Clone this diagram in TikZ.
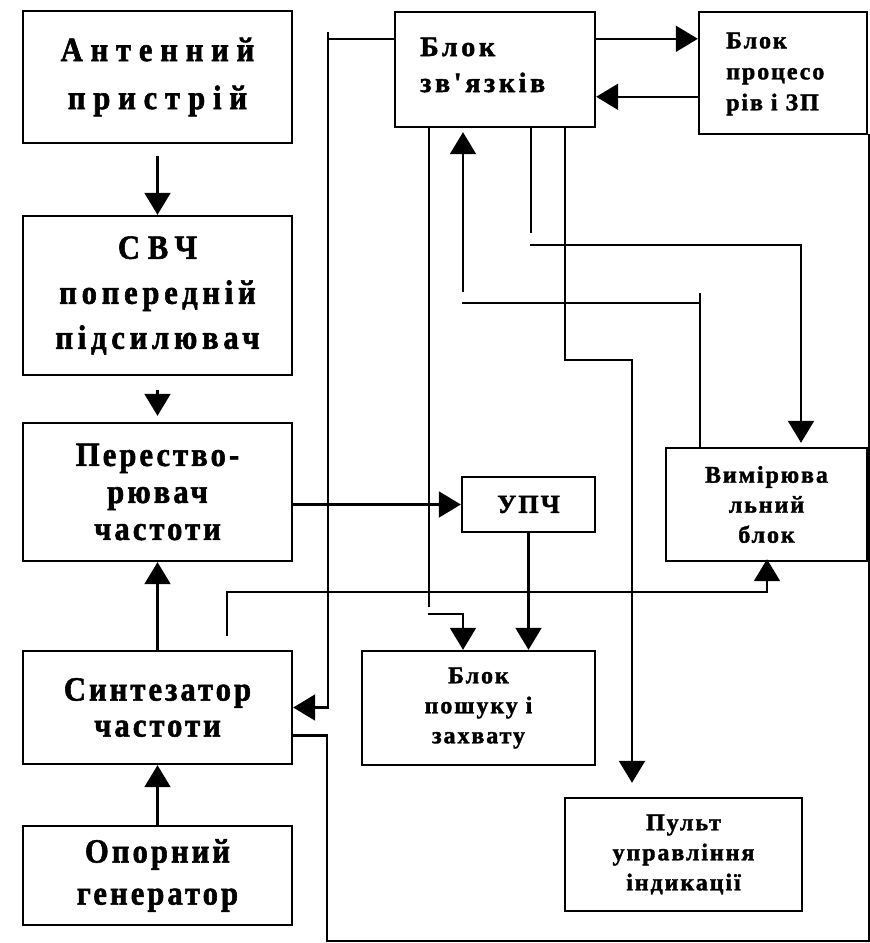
\documentclass[tikz,border=0pt]{standalone}
\usepackage{fontspec}
\setmainfont{Liberation Serif}
\newfontfamily\lfont{Liberation Serif}[UprightFont=* Bold,FakeBold=1.6,FakeStretch=0.9,LetterSpace=9]
\newfontfamily\lmfont{Liberation Serif}[UprightFont=* Bold,FakeBold=1.6,FakeStretch=0.9,LetterSpace=14]
\newfontfamily\lwfont{Liberation Serif}[UprightFont=* Bold,FakeBold=1.6,FakeStretch=0.9,LetterSpace=23]
\newfontfamily\rfont{Liberation Serif}[UprightFont=* Bold,FakeBold=1.6,LetterSpace=8]
\newfontfamily\zfont{Liberation Serif}[UprightFont=* Bold,FakeBold=1.6,LetterSpace=13]
\usetikzlibrary{arrows.meta}
\begin{document}
\begin{tikzpicture}[x=1pt,y=-1pt]
	\tikzstyle{every node}+=[inner sep=0pt]
	\tikzstyle{box}=[draw,line width=2.4pt,align=center]
	\tikzstyle{lbox}=[box,minimum width=269pt]
	\tikzstyle{wire}=[line width=2.1pt]
	\tikzstyle{arr}=[wire,-{Triangle[length=22pt,width=26pt]}]
	\useasboundingbox (0,0) rectangle (870,943);
	\node[lbox,minimum height=132pt,font=\lwfont\fontsize{34}{48}\selectfont] (ant) at (157.5,77) {Антенний\\пристрій};
	\node[lbox,minimum height=159pt,font=\lmfont\fontsize{34}{45}\selectfont] (svch) at (157.5,295.5) {{\lwfont СВЧ}\\попередній\\підсилювач};
	\node[lbox,minimum height=138pt,font=\lfont\fontsize{34}{37}\selectfont] (per) at (157.5,492) {Перество-\\рювач\\частоти};
	\node[lbox,minimum height=113pt,font=\lfont\fontsize{34}{36}\selectfont] (syn) at (157.5,707.5) {Синтезатор\\частоти};
	\node[lbox,minimum height=99pt,font=\lfont\fontsize{34}{42}\selectfont] (opor) at (157.5,875.5) {Опорний\\генератор};
	\node[box,minimum width=200pt,minimum height=115pt] (zv) at (495,69.5) {};
	\node[anchor=west,align=left,font=\zfont\fontsize{28}{36}\selectfont] (zvt) at (420,65) {Блок\\зв'язків};
	\node[box,minimum width=168pt,minimum height=122pt] (proc) at (783,73) {};
	\node[anchor=west,align=left,font=\rfont\fontsize{24}{31}\selectfont] (proct) at (726,74) {Блок\\процесо\\рів і ЗП};
	\node[box,minimum width=133pt,minimum height=55pt,font=\rfont\fontsize{26}{30}\selectfont] (upch) at (528.5,504.5) {УПЧ};
	\node[box,minimum width=201pt,minimum height=113pt,font=\rfont\fontsize{24}{30}\selectfont] (vym) at (766.5,504.5) {Вимірюва\\льний\\блок};
	\node[box,minimum width=233pt,minimum height=114pt,font=\rfont\fontsize{24}{30}\selectfont] (posh) at (478.5,708) {Блок\\пошуку і\\захвату};
	\node[box,minimum width=237pt,minimum height=113pt,font=\rfont\fontsize{24}{30}\selectfont] (pult) at (683.5,854.5) {Пульт\\управління\\індикації};
	\coordinate (zvL) at ([yshift=-28pt]zv.north west);
	\coordinate (zvR) at ([yshift=-28pt]zv.north east);
	\coordinate (prL) at ([yshift=-86pt]proc.north west);
	\coordinate (synR) at ([yshift=-28pt]syn.east);
	\coordinate (h0) at (328,32);
	\coordinate (botL) at (327,941);
	\coordinate (botR) at (869.5,941);
	\coordinate (c1) at (429,607);
	\coordinate (c2) at (428,614);
	\coordinate (c3) at (463,614);
	\coordinate (d1) at (463,292);
	\coordinate (d2) at (462,303);
	\coordinate (d3) at (700,303);
	\coordinate (d4) at (700,293);
	\coordinate (e1) at (531,233);
	\coordinate (e2) at (530,245);
	\coordinate (e3) at (801,245);
	\coordinate (f1) at (565,360);
	\coordinate (f2) at (632,360);
	\coordinate (g1) at (227,636);
	\coordinate (g2) at (227,592);
	\coordinate (g3) at (767,592);
	\draw[arr,shorten <=12pt] (ant) -- (svch);
	\draw[arr,shorten <=14pt,shorten >=6pt] (svch) -- (per);
	\draw[arr] (syn) -- (per);
	\draw[arr] (opor) -- (syn);
	\draw[arr] (per.east |- upch.west) -- (upch.west);
	\draw[arr] (upch.south) -- (upch.south |- posh.north);
	\draw[arr] (zvR) -- (zvR -| proc.west);
	\draw[arr] (prL) -- (prL -| zv.east);
	\draw[wire] (zvL) -- (zvL -| h0);
	\draw[arr] (h0) -- (h0 |- syn.east) -- (syn.east);
	\draw[wire] (synR) -| (botL) -- (botR) |- (proc.south east);
	\draw[wire] (zv.south -| c1) -- (c1);
	\draw[arr] (c2) -- (c3) -- (c3 |- posh.north);
	\draw[arr,shorten >=4pt] (d1) -- (d1 |- zv.south);
	\draw[wire] (d2) -- (d3);
	\draw[wire] (d4) -- (d4 |- vym.north);
	\draw[wire] (zv.south -| e1) -- (e1);
	\draw[arr,shorten >=4pt] (e2) -- (e3) -- (e3 |- vym.north);
	\draw[arr,shorten >=14pt] (zv.south -| f1) -- (f1) -- (f2) -- (f2 |- pult.north);
	\draw[arr,shorten >=-3pt] (g1) -- (g2) -- (g3) -- (g3 |- vym.south);
\end{tikzpicture}
\end{document}
